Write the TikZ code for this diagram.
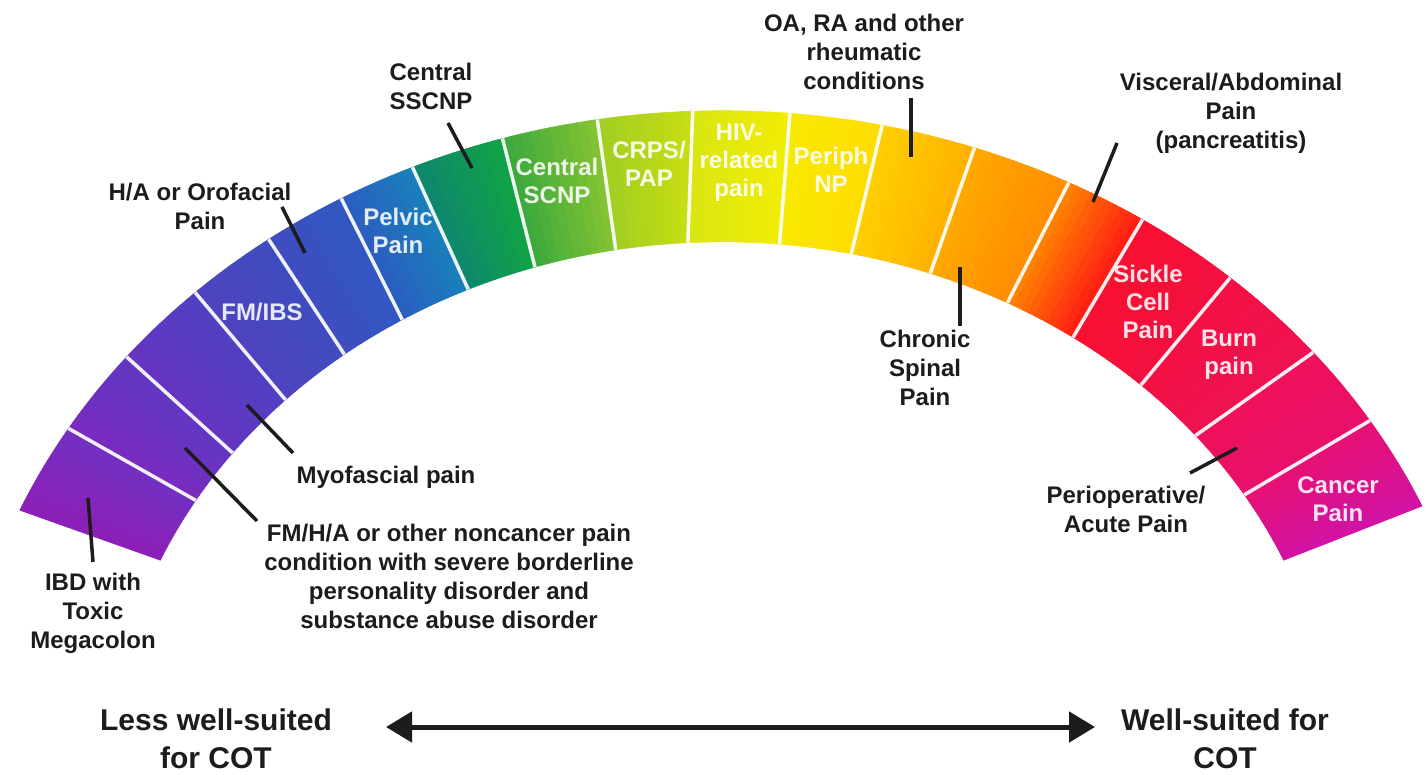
\documentclass[tikz,border=0pt]{standalone}
\usepackage{fontspec}
\setmainfont{Liberation Sans}
\usetikzlibrary{arrows.meta}
\definecolor{s1a}{HTML}{8E1EB8}\definecolor{s1b}{HTML}{7030C0}
\definecolor{s2a}{HTML}{7A2ABF}\definecolor{s2b}{HTML}{6038C2}
\definecolor{s3a}{HTML}{6634C1}\definecolor{s3b}{HTML}{5040C1}
\definecolor{s4a}{HTML}{5042C0}\definecolor{s4b}{HTML}{3E4DC0}
\definecolor{s5a}{HTML}{404CC0}\definecolor{s5b}{HTML}{2F58C2}
\definecolor{s6a}{HTML}{2C5CC2}\definecolor{s6b}{HTML}{1880BA}
\definecolor{s7a}{HTML}{0E8670}\definecolor{s7b}{HTML}{10A444}
\definecolor{s8a}{HTML}{3AA83E}\definecolor{s8b}{HTML}{86C432}
\definecolor{s9a}{HTML}{A0CE22}\definecolor{s9b}{HTML}{C8DE12}
\definecolor{s10a}{HTML}{D8E612}\definecolor{s10b}{HTML}{F2EC04}
\definecolor{s11a}{HTML}{F8EA02}\definecolor{s11b}{HTML}{FFDC00}
\definecolor{s12a}{HTML}{FFD000}\definecolor{s12b}{HTML}{FFB200}
\definecolor{s13a}{HTML}{FFAA00}\definecolor{s13b}{HTML}{FF8C00}
\definecolor{s14a}{HTML}{FF8600}\definecolor{s14b}{HTML}{FF1A14}
\definecolor{s15a}{HTML}{F81030}\definecolor{s15b}{HTML}{F21040}
\definecolor{s16a}{HTML}{F41042}\definecolor{s16b}{HTML}{EE1252}
\definecolor{s17a}{HTML}{F0105A}\definecolor{s17b}{HTML}{E8106C}
\definecolor{s18a}{HTML}{E81072}\definecolor{s18b}{HTML}{D012A4}
\definecolor{ink}{HTML}{1C1C1C}
\begin{document}
\begin{tikzpicture}[x=1pt,y=1pt,
  lbl/.style={font=\bfseries\fontsize{24}{29}\selectfont, text=ink, align=center, inner sep=0pt},
  wlbl/.style={font=\bfseries\fontsize{24}{28}\selectfont, text=white, text opacity=0.88, align=center, inner sep=0pt},
  biglbl/.style={font=\bfseries\fontsize{30}{38}\selectfont, text=ink, align=center, inner sep=0pt},
  ptr/.style={line width=3.5pt, draw=ink},
  sepline/.style={draw=white, draw opacity=0.92, line width=3.5pt}]
\useasboundingbox (0,0) rectangle (1426,774);
\fill[white] (0,0) rectangle (1426,774);
% coloured band
\begin{scope}[shift={(722,4)}, yscale=0.863]
\foreach \oa/\ia/\ob/\ib/\ca/\cb in {
  156.8/156.6/148.8/149.3/s1a/s1b,
  148.8/149.3/141.2/143.1/s2a/s2b,
  141.2/143.1/133.6/135.5/s3a/s3b,
  133.6/135.5/126.4/128.1/s4a/s4b,
  126.4/128.1/119.9/121.5/s5a/s5b,
  119.9/121.5/113.9/114.5/s6a/s6b,
  113.9/114.5/106.7/107.8/s7a/s7b,
  106.7/107.8/99.4/100.0/s8a/s8b,
  99.4/100.0/92.2/93.2/s9a/s9b,
  92.2/93.2/84.9/84.6/s10a/s10b,
  84.9/84.6/77.9/77.8/s11a/s11b,
  77.9/77.8/70.7/70.1/s12a/s12b,
  70.7/70.1/63.0/62.2/s13a/s13b,
  63.0/62.2/56.6/55.0/s14a/s14b,
  56.6/55.0/48.3/46.8/s15a/s15b,
  48.3/46.8/39.3/39.3/s16a/s16b,
  39.3/39.3/32.0/31.4/s17a/s17b,
  32.0/31.4/23.6/23.4/s18a/s18b}{
  \foreach \k in {0,...,9}{
    \pgfmathsetmacro\oA{\oa+(\ob-\oa)*\k/10}
    \pgfmathsetmacro\oB{\oa+(\ob-\oa)*(\k+1)/10}
    \pgfmathsetmacro\iA{\ia+(\ib-\ia)*\k/10}
    \pgfmathsetmacro\iB{\ia+(\ib-\ia)*(\k+1)/10}
    \pgfmathtruncatemacro\pp{10*\k+5}
    \fill[draw, line width=0.5pt, color=\cb!\pp!\ca] (\oA:764) arc[start angle=\oA, end angle=\oB, radius=764] -- (\iB:612) arc[start angle=\iB, end angle=\iA, radius=612] -- cycle;
  }
}
\foreach \o/\i in {148.8/149.3, 141.2/143.1, 133.6/135.5, 126.4/128.1, 119.9/121.5, 113.9/114.5, 106.7/107.8, 99.4/100.0, 92.2/93.2, 84.9/84.6, 77.9/77.8, 70.7/70.1, 63.0/62.2, 56.6/55.0, 48.3/46.8, 39.3/39.3, 32.0/31.4}
  \draw[sepline] (\i:612) -- (\o:764);
\end{scope}
% white labels in band
\node[wlbl] (fmibs) at (262,462) {FM/IBS};
\node[wlbl] (pelvic) at (398,543) {Pelvic\\Pain};
\node[wlbl] (cscnp) at (557,593) {Central\\SCNP};
\node[wlbl] (crps) at (649,610) {CRPS/\\PAP};
\node[wlbl] (hiv) at (739,611) {HIV-\\related\\pain};
\node[wlbl] (periph) at (831,604) {Periph\\NP};
\node[wlbl] (sickle) at (1148,472) {Sickle\\Cell\\Pain};
\node[wlbl] (burn) at (1229,419) {Burn\\pain};
\node[wlbl] (cancer) at (1338,275) {Cancer\\Pain};
% outside labels
\node[lbl] (ibd) at (93,161) {IBD with\\Toxic\\Megacolon};
\node[lbl] (fmha) at (449,198) {FM/H/A or other noncancer pain\\condition with severe borderline\\personality disorder and\\substance abuse disorder};
\node[lbl] (myo) at (386,297) {Myofascial pain};
\node[lbl] (ha) at (200,568) {H/A or Orofacial\\Pain};
\node[lbl] (sscnp) at (431,688) {Central\\SSCNP};
\node[lbl] (oara) at (864,722) {OA, RA and other\\rheumatic\\conditions};
\node[lbl] (visc) at (1231,661) {Visceral/Abdominal\\Pain\\(pancreatitis)};
\node[lbl] (spinal) at (925,406) {Chronic\\Spinal\\Pain};
\node[lbl] (periop) at (1126,265) {Perioperative/\\Acute Pain};
% pointers
\coordinate (ibdA) at (93,212);   \coordinate (ibdB) at (88,276);
\coordinate (fmhaA) at (257,253); \coordinate (fmhaB) at (185,326);
\coordinate (myoA) at (293,321);  \coordinate (myoB) at (247,369);
\coordinate (haA) at (282,567);   \coordinate (haB) at (305,521);
\coordinate (sscA) at (448,651);  \coordinate (sscB) at (472,606);
\coordinate (oaA) at (911,676);   \coordinate (oaB) at (911,617);
\coordinate (viscA) at (1117,631);\coordinate (viscB) at (1093,572);
\coordinate (spA) at (960,448);   \coordinate (spB) at (960,507);
\coordinate (poA) at (1190,301);  \coordinate (poB) at (1237,326);
\foreach \a/\b in {ibdA/ibdB, fmhaA/fmhaB, myoA/myoB, haA/haB, sscA/sscB, oaA/oaB, viscA/viscB, spA/spB, poA/poB}
  \draw[ptr] (\a) -- (\b);
% bottom scale
\node[biglbl] (less) at (216,35) {Less well-suited\\for COT};
\node[biglbl] (well) at (1225,35) {Well-suited for\\COT};
\coordinate (arrL) at (386,47);
\coordinate (arrR) at (1095,47);
\draw[line width=5pt, draw=ink, {Triangle[length=26pt,width=30pt]}-{Triangle[length=26pt,width=30pt]}] (arrL) -- (arrR);
\end{tikzpicture}
\end{document}
